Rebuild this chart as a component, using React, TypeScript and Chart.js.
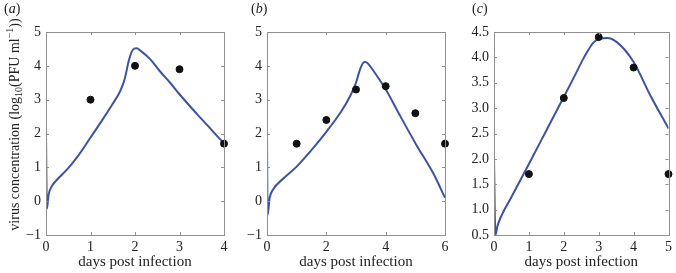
import React, { useEffect, useRef } from "react";
import { Chart, registerables } from "chart.js";

Chart.register(...registerables);

// ---------- Panel (a) ----------
const aCurveX = [0, 0.02, 0.06, 0.13, 0.25, 0.47, 0.7, 1.0, 1.3, 1.5, 1.67, 1.77, 1.86, 1.92, 1.98, 2.04, 2.12, 2.34, 2.56, 2.79, 3.0, 3.39, 3.76, 4.0];
const aCurveY = [2.0, -0.22, 0.2, 0.44, 0.64, 0.93, 1.3, 1.88, 2.47, 2.88, 3.26, 3.62, 4.15, 4.4, 4.51, 4.52, 4.45, 4.2, 3.84, 3.5, 3.16, 2.58, 2.05, 1.7];
const aDotsX = [1, 2, 3, 4];
const aDotsY = [3.0, 4.0, 3.9, 1.7];
const aXTicks = [0, 1, 2, 3, 4];
const aYTicks = [-1, 0, 1, 2, 3, 4, 5];

// ---------- Panel (b) ----------
const bCurveX = [0, 0.02, 0.09, 0.2, 0.54, 1.0, 1.44, 2.0, 2.5, 2.8, 3.0, 3.12, 3.22, 3.3, 3.4, 3.55, 3.8, 4.02, 4.47, 5.03, 5.6, 6.0];
const bCurveY = [2.0, -0.41, 0.1, 0.34, 0.66, 1.02, 1.45, 2.05, 2.65, 3.1, 3.5, 3.85, 4.06, 4.12, 4.07, 3.9, 3.58, 3.28, 2.55, 1.67, 0.83, 0.1];
const bDotsX = [1, 2, 3, 4, 5, 6];
const bDotsY = [1.7, 2.4, 3.3, 3.4, 2.6, 1.7];
const bXTicks = [0, 2, 4, 6];
const bYTicks = [-1, 0, 1, 2, 3, 4, 5];

// ---------- Panel (c) ----------
const cCurveX = [0, 0.04, 0.1, 0.2, 0.5, 1.0, 1.5, 2.0, 2.3, 2.58, 2.86, 3.05, 3.24, 3.52, 4.0, 4.48, 5.0];
const cCurveY = [2.0, 0.5, 0.68, 0.86, 1.25, 1.9, 2.56, 3.22, 3.62, 4.0, 4.3, 4.37, 4.38, 4.3, 3.91, 3.25, 2.6];
const cDotsX = [1, 2, 3, 4, 5];
const cDotsY = [1.7, 3.2, 4.4, 3.8, 1.7];
const cXTicks = [0, 1, 2, 3, 4, 5];
const cYTicks = [0.5, 1.0, 1.5, 2.0, 2.5, 3.0, 3.5, 4.0, 4.5];

const X_TITLE = "days post infection";
const Y_TITLE_PARTS = ["virus concentration (log", "10", "(PFU ml", "\u22121", "))"];

const LINE_COLOR = "#3a54a2";
const DOT_COLOR = "#111111";
const FRAME_COLOR = "#8f8f8f";
const TEXT_COLOR = "#222222";
const FONT_FAMILY = "'Liberation Serif', 'Times New Roman', serif";

const W = 676;
const H = 273;

type PanelCfg = {
  curveX: number[];
  curveY: number[];
  dotsX: number[];
  dotsY: number[];
  xTicks: number[];
  yTicks: number[];
  xMin: number;
  xMax: number;
  yMin: number;
  yMax: number;
  left: number;
  right: number;
  top: number;
  bottom: number;
  yFmt: (v: number) => string;
  yTitle: boolean;
};

const intFmt = (v: number) => String(v).replace("-", "\u2212");
const oneDec = (v: number) => v.toFixed(1);

const panels: PanelCfg[] = [
  { curveX: aCurveX, curveY: aCurveY, dotsX: aDotsX, dotsY: aDotsY, xTicks: aXTicks, yTicks: aYTicks, xMin: 0, xMax: 4, yMin: -1, yMax: 5, left: 46, right: 224, top: 32, bottom: 235, yFmt: intFmt, yTitle: true },
  { curveX: bCurveX, curveY: bCurveY, dotsX: bDotsX, dotsY: bDotsY, xTicks: bXTicks, yTicks: bYTicks, xMin: 0, xMax: 6, yMin: -1, yMax: 5, left: 267, right: 445, top: 32, bottom: 235, yFmt: intFmt, yTitle: false },
  { curveX: cCurveX, curveY: cCurveY, dotsX: cDotsX, dotsY: cDotsY, xTicks: cXTicks, yTicks: cYTicks, xMin: 0, xMax: 5, yMin: 0.5, yMax: 4.5, left: 494, right: 671, top: 32, bottom: 235, yFmt: oneDec, yTitle: false },
];

const framePlugin = {
  id: "frameTicks",
  afterDatasetsDraw(chart: any) {
    const { ctx, chartArea } = chart;
    const { left, right, top, bottom } = chartArea;
    const xs = chart.scales.x;
    const ys = chart.scales.y;
    const tl = 3;
    ctx.save();
    ctx.strokeStyle = FRAME_COLOR;
    ctx.lineWidth = 1;
    ctx.strokeRect(Math.round(left) + 0.5, Math.round(top) + 0.5, Math.round(right - left), Math.round(bottom - top));
    ctx.beginPath();
    for (const t of xs.ticks) {
      const px = Math.round(xs.getPixelForValue(t.value)) + 0.5;
      ctx.moveTo(px, bottom);
      ctx.lineTo(px, bottom - tl);
      ctx.moveTo(px, top);
      ctx.lineTo(px, top + tl);
    }
    for (const t of ys.ticks) {
      const py = Math.round(ys.getPixelForValue(t.value)) + 0.5;
      ctx.moveTo(left, py);
      ctx.lineTo(left + tl, py);
      ctx.moveTo(right, py);
      ctx.lineTo(right - tl, py);
    }
    ctx.stroke();
    ctx.restore();
  },
};

const yTitlePlugin = {
  id: "yTitle",
  afterDraw(chart: any) {
    const opts = chart.options.plugins.yTitle;
    if (!opts || !opts.display) return;
    const { ctx, chartArea } = chart;
    const big = `14px ${FONT_FAMILY}`;
    const small = `10px ${FONT_FAMILY}`;
    const parts = Y_TITLE_PARTS.map((text, i) => ({
      text,
      font: i === 1 || i === 3 ? small : big,
      dy: i === 1 ? 4 : i === 3 ? -5 : 0,
    }));
    ctx.save();
    let total = 0;
    for (const p of parts) {
      ctx.font = p.font;
      total += ctx.measureText(p.text).width;
    }
    const cx = chartArea.left - 31;
    const cy = (chartArea.top + chartArea.bottom) / 2 - 9;
    ctx.translate(cx, cy);
    ctx.rotate(-Math.PI / 2);
    ctx.fillStyle = TEXT_COLOR;
    ctx.textBaseline = "middle";
    ctx.textAlign = "left";
    let x = -total / 2;
    for (const p of parts) {
      ctx.font = p.font;
      ctx.fillText(p.text, x, p.dy);
      x += ctx.measureText(p.text).width;
    }
    ctx.restore();
  },
};

function Panel({ cfg }: { cfg: PanelCfg }) {
  const ref = useRef<HTMLCanvasElement | null>(null);
  useEffect(() => {
    if (!ref.current) return;
    const xAxisH = 38;
    const curve = cfg.curveX.map((x, i) => ({ x, y: cfg.curveY[i] }));
    const dots = cfg.dotsX.map((x, i) => ({ x, y: cfg.dotsY[i] }));
    const tickFont = { family: FONT_FAMILY, size: 14 };
    const chart = new Chart(ref.current, {
      type: "scatter",
      data: {
        datasets: [
          {
            type: "scatter",
            data: dots,
            pointRadius: 3.5,
            pointBorderWidth: 1,
            backgroundColor: DOT_COLOR,
            borderColor: DOT_COLOR,
            clip: false,
            order: 0,
          } as any,
          {
            type: "line",
            data: curve,
            borderColor: LINE_COLOR,
            borderWidth: 2,
            pointRadius: 0,
            cubicInterpolationMode: "monotone",
            fill: false,
            order: 1,
          } as any,
        ],
      },
      options: {
        responsive: false,
        animation: false,
        devicePixelRatio: 1,
        events: [],
        layout: {
          padding: { left: 0, right: W - cfg.right, top: cfg.top, bottom: H - cfg.bottom - xAxisH },
        },
        plugins: {
          legend: { display: false },
          tooltip: { enabled: false },
          yTitle: { display: cfg.yTitle },
        } as any,
        scales: {
          x: {
            type: "linear",
            min: cfg.xMin,
            max: cfg.xMax,
            afterFit: (s: any) => { s.height = xAxisH; },
            afterBuildTicks: (s: any) => { s.ticks = cfg.xTicks.map((v) => ({ value: v })); },
            grid: { display: false, drawTicks: false },
            border: { display: false },
            ticks: {
              padding: 4,
              color: TEXT_COLOR,
              font: tickFont,
              maxRotation: 0,
              autoSkip: false,
              callback: (v: any) => intFmt(Number(v)),
            },
            title: {
              display: true,
              text: X_TITLE,
              color: TEXT_COLOR,
              font: { family: FONT_FAMILY, size: 15 },
              padding: { top: 0, bottom: 2 },
            },
          },
          y: {
            type: "linear",
            min: cfg.yMin,
            max: cfg.yMax,
            afterFit: (s: any) => { s.width = cfg.left; },
            afterBuildTicks: (s: any) => { s.ticks = cfg.yTicks.map((v) => ({ value: v })); },
            grid: { display: false, drawTicks: false },
            border: { display: false },
            ticks: {
              padding: 5,
              color: TEXT_COLOR,
              font: tickFont,
              autoSkip: false,
              callback: (v: any) => cfg.yFmt(Number(v)),
            },
          },
        },
      } as any,
      plugins: [framePlugin, yTitlePlugin],
    });
    return () => chart.destroy();
  }, [cfg]);
  return (
    <canvas
      ref={ref}
      width={W}
      height={H}
      style={{ position: "absolute", left: 0, top: 0, width: W, height: H }}
    />
  );
}

const PANEL_LABELS = ["a", "b", "c"];
const labelLefts = [4, 251, 472];

export default function App() {
  return (
    <div style={{ position: "absolute", left: 0, top: 0, width: W, height: H, background: "#ffffff", overflow: "hidden" }}>
      {panels.map((p, i) => (
        <Panel key={i} cfg={p} />
      ))}
      {PANEL_LABELS.map((l, i) => (
        <span
          key={l}
          style={{
            position: "absolute",
            left: labelLefts[i],
            top: 2,
            fontFamily: FONT_FAMILY,
            fontSize: 14,
            lineHeight: "14px",
            color: TEXT_COLOR,
          }}
        >
          (<i>{l}</i>)
        </span>
      ))}
    </div>
  );
}
